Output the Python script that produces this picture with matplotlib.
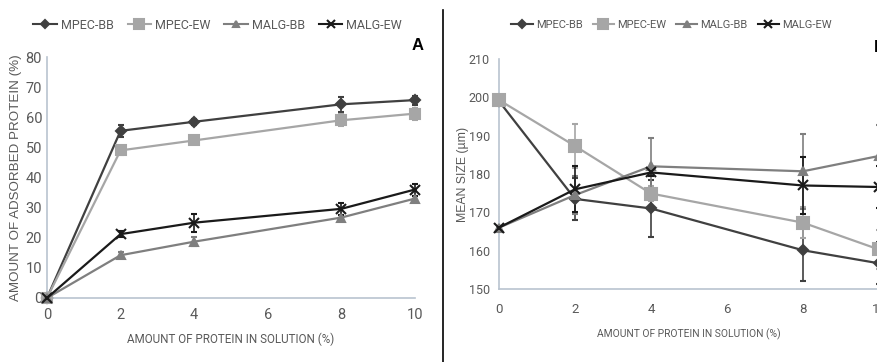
import matplotlib
matplotlib.use("Agg")
import matplotlib.pyplot as plt
from matplotlib.lines import Line2D

x = [0, 2, 4, 8, 10]
series = ["MPEC-BB", "MPEC-EW", "MALG-BB", "MALG-EW"]

# panel A: amount of adsorbed protein (%)
ads_mpec_bb = [0, 55.5, 58.5, 64.3, 65.7]
ads_mpec_ew = [0, 49.0, 52.3, 59.0, 61.2]
ads_malg_bb = [0, 14.2, 18.7, 26.7, 33.0]
ads_malg_ew = [0, 21.2, 25.0, 29.6, 36.0]
ads_err_mpec_bb = [0, 2.0, 1.0, 2.5, 1.5]
ads_err_mpec_ew = [0, 1.5, 1.0, 2.0, 2.0]
ads_err_malg_bb = [0, 1.0, 1.5, 1.0, 1.0]
ads_err_malg_ew = [0, 1.0, 3.0, 2.0, 2.0]

# panel B: mean size (um)
size_mpec_bb = [199.0, 173.5, 171.0, 160.1, 156.7]
size_mpec_ew = [199.3, 187.3, 174.9, 167.3, 160.3]
size_malg_bb = [166.0, 174.5, 182.0, 180.7, 184.7]
size_malg_ew = [166.0, 176.0, 180.4, 177.0, 176.6]
size_err_mpec_bb = [0, 5.5, 7.5, 8.0, 5.5]
size_err_mpec_ew = [0, 5.7, 2.0, 4.0, 5.0]
size_err_malg_bb = [0, 5.0, 7.5, 9.8, 8.0]
size_err_malg_ew = [0, 6.0, 1.0, 7.5, 5.5]

colors = ["#404040", "#a6a6a6", "#7f7f7f", "#1a1a1a"]
markers = ["D", "s", "^", "x"]
msizes = [5.5, 7.5, 6, 7]

narrow = ["Roboto", "DejaVu Sans"]
axis_col = "#b9c3cf"
text_col = "#595959"

fig = plt.figure(figsize=(8.78, 3.62), dpi=100)

axA = fig.add_axes([0.0535, 0.1768, 0.419, 0.6657])
axB = fig.add_axes([0.5683, 0.2017, 0.4328, 0.6354])

dataA = [ads_mpec_bb, ads_mpec_ew, ads_malg_bb, ads_malg_ew]
errA = [ads_err_mpec_bb, ads_err_mpec_ew, ads_err_malg_bb, ads_err_malg_ew]
dataB = [size_mpec_bb, size_mpec_ew, size_malg_bb, size_malg_ew]
errB = [size_err_mpec_bb, size_err_mpec_ew, size_err_malg_bb, size_err_malg_ew]

for ax, data, err in [(axA, dataA, errA), (axB, dataB, errB)]:
    for i in range(4):
        ms = msizes[i] + (1.5 if ax is axB and markers[i] == "s" else 0)
        ax.errorbar(x, data[i], yerr=err[i], color=colors[i], marker=markers[i],
                    markersize=ms, markeredgewidth=1.5, linewidth=1.6,
                    elinewidth=1.2, capsize=2.5, capthick=1.2, clip_on=False, zorder=3)
    for side in ["top", "right"]:
        ax.spines[side].set_visible(False)
    for side in ["left", "bottom"]:
        ax.spines[side].set_color(axis_col)
        ax.spines[side].set_linewidth(1.2)
    ax.tick_params(length=0, colors=text_col)
    ax.set_xlim(0, 10)
    ax.set_xticks([0, 2, 4, 6, 8, 10])

axA.tick_params(axis="x", labelsize=10.5, pad=7)
axA.tick_params(axis="y", labelsize=10.5, pad=3.5)
axB.tick_params(axis="x", labelsize=9.5, pad=10)
axB.tick_params(axis="y", labelsize=9, pad=6.5)
axA.set_ylim(0, 80)
axA.set_yticks(range(0, 81, 10))
axB.set_ylim(150, 210)
axB.set_yticks(range(150, 211, 10))
for ax in [axA, axB]:
    for lab in ax.get_xticklabels() + ax.get_yticklabels():
        lab.set_family(narrow)

axA.set_xlabel("AMOUNT OF PROTEIN IN SOLUTION (%)", family=narrow, fontsize=8.4,
               color=text_col, labelpad=8)
axA.set_ylabel("AMOUNT OF ADSORBED PROTEIN (%)", family="Liberation Sans", fontsize=9.6,
               color=text_col)
axA.yaxis.set_label_coords(-0.068, 0.5)
axB.set_xlabel("AMOUNT OF PROTEIN IN SOLUTION (%)", family=narrow, fontsize=7.4,
               color=text_col, labelpad=9)
axB.set_ylabel("MEAN SIZE (\u00b5m)", family="Liberation Sans", fontsize=8.8,
               color=text_col)
axB.yaxis.set_label_coords(-0.08, 0.5)

handles = [Line2D([0], [0], color=colors[i], marker=markers[i], markersize=msizes[i] - 1,
                  markeredgewidth=1.5, linewidth=1.5) for i in range(4)]
fig.legend(handles, series, loc="center", bbox_to_anchor=(0.248, 0.93), ncol=4,
           frameon=False, prop={"family": narrow, "size": 9}, labelcolor=text_col,
           handlelength=1.9, handletextpad=0.3, columnspacing=1.1)
fig.legend(handles, series, loc="center", bbox_to_anchor=(0.765, 0.93), ncol=4,
           frameon=False, prop={"family": narrow, "size": 8}, labelcolor=text_col,
           handlelength=1.9, handletextpad=0.3, columnspacing=0.9)

fig.text(0.476, 0.873, "A", fontsize=12, fontweight="bold", ha="center", va="center",
         family="Liberation Sans")
fig.text(0.995, 0.87, "B", fontsize=12, fontweight="bold", ha="left", va="center",
         family="Liberation Sans")

fig.add_artist(Line2D([0.5046, 0.5046], [0.0, 0.972], color="black", linewidth=1.2,
                      transform=fig.transFigure))

fig.savefig("out.png", dpi=100)
